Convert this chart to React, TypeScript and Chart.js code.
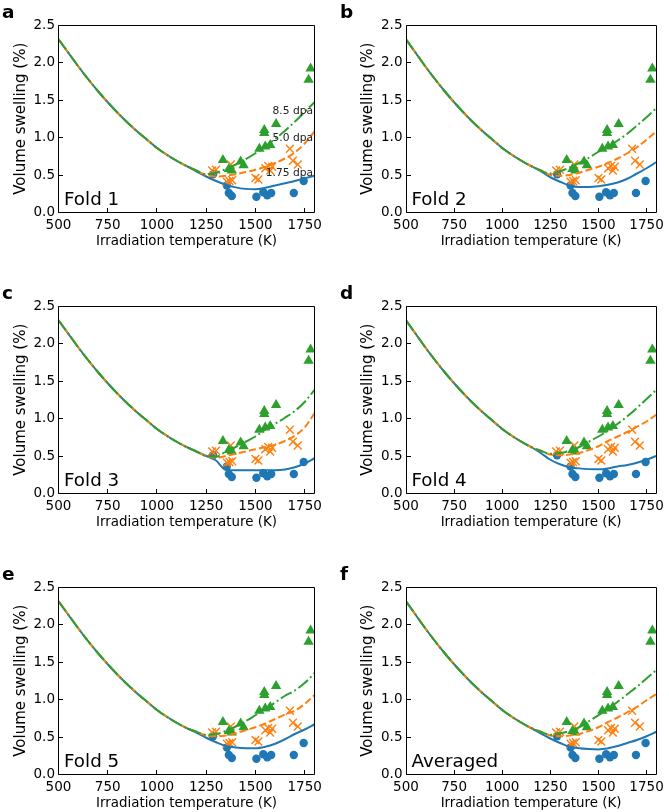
import React, { useEffect, useRef } from 'react';
import { Chart, registerables } from 'chart.js';

Chart.register(...registerables);

const FONT = "'DejaVu Sans', sans-serif";
const BLUE = '#1f77b4';
const ORANGE = '#ff7f0e';
const GREEN = '#2ca02c';

// Axis ticks
const X_TICKS = [500, 750, 1000, 1250, 1500, 1750];
const Y_TICKS = [0, 0.5, 1.0, 1.5, 2.0, 2.5];

// Model curves: shared low-temperature part
const COMMON_T = [500, 550, 600, 650, 700, 750, 800, 850, 900, 950, 1000, 1050, 1100, 1150];
const COMMON_S = [2.31, 2.13, 1.95, 1.78, 1.62, 1.47, 1.33, 1.2, 1.08, 0.97, 0.86, 0.77, 0.69, 0.62];

// Model curves: high-temperature part per fold
const TAIL_T = [1200, 1250, 1300, 1350, 1400, 1450, 1500, 1550, 1600, 1650, 1700, 1750, 1800];

const FOLD1_BLUE = [0.55, 0.48, 0.42, 0.37, 0.335, 0.315, 0.31, 0.33, 0.36, 0.39, 0.42, 0.455, 0.49];
const FOLD1_ORANGE = [0.56, 0.5, 0.48, 0.49, 0.51, 0.54, 0.57, 0.61, 0.66, 0.72, 0.8, 0.92, 1.08];
const FOLD1_GREEN = [0.56, 0.51, 0.53, 0.58, 0.64, 0.71, 0.79, 0.88, 0.98, 1.09, 1.21, 1.34, 1.47];

const FOLD2_BLUE = [0.55, 0.47, 0.41, 0.36, 0.34, 0.34, 0.35, 0.37, 0.4, 0.45, 0.52, 0.59, 0.67];
const FOLD2_ORANGE = [0.56, 0.5, 0.49, 0.5, 0.53, 0.57, 0.61, 0.66, 0.72, 0.79, 0.87, 0.97, 1.08];
const FOLD2_GREEN = [0.56, 0.52, 0.55, 0.6, 0.66, 0.73, 0.81, 0.88, 0.96, 1.05, 1.16, 1.27, 1.39];

const FOLD3_BLUE = [0.56, 0.5, 0.44, 0.315, 0.31, 0.31, 0.31, 0.31, 0.31, 0.32, 0.35, 0.4, 0.47];
const FOLD3_ORANGE = [0.56, 0.5, 0.475, 0.5, 0.53, 0.56, 0.59, 0.62, 0.65, 0.7, 0.77, 0.88, 1.07];
const FOLD3_GREEN = [0.56, 0.5, 0.49, 0.56, 0.62, 0.69, 0.76, 0.85, 0.93, 1.01, 1.1, 1.22, 1.38];

const FOLD4_BLUE = [0.54, 0.45, 0.39, 0.35, 0.335, 0.325, 0.322, 0.335, 0.36, 0.38, 0.41, 0.45, 0.5];
const FOLD4_ORANGE = [0.57, 0.52, 0.51, 0.52, 0.54, 0.58, 0.63, 0.7, 0.76, 0.82, 0.89, 0.96, 1.05];
const FOLD4_GREEN = [0.57, 0.53, 0.54, 0.57, 0.62, 0.69, 0.76, 0.84, 0.93, 1.03, 1.14, 1.26, 1.38];

const FOLD5_BLUE = [0.56, 0.49, 0.43, 0.38, 0.36, 0.35, 0.35, 0.37, 0.41, 0.47, 0.54, 0.6, 0.67];
const FOLD5_ORANGE = [0.57, 0.52, 0.51, 0.52, 0.55, 0.59, 0.63, 0.68, 0.74, 0.8, 0.85, 0.94, 1.06];
const FOLD5_GREEN = [0.57, 0.53, 0.54, 0.58, 0.64, 0.71, 0.79, 0.87, 0.96, 1.05, 1.12, 1.22, 1.35];

const AVG_BLUE = [0.55, 0.48, 0.42, 0.37, 0.35, 0.34, 0.335, 0.35, 0.38, 0.42, 0.46, 0.51, 0.57];
const AVG_ORANGE = [0.57, 0.52, 0.51, 0.52, 0.54, 0.58, 0.63, 0.7, 0.76, 0.83, 0.9, 0.99, 1.07];
const AVG_GREEN = [0.57, 0.53, 0.55, 0.58, 0.63, 0.71, 0.79, 0.88, 0.97, 1.07, 1.17, 1.28, 1.39];

// Experimental data (same in every panel)
const EXP_175_T = [1285, 1355, 1365, 1380, 1505, 1540, 1560, 1580, 1695, 1745];
const EXP_175_S = [0.51, 0.36, 0.26, 0.22, 0.21, 0.27, 0.23, 0.26, 0.26, 0.42];

const EXP_50_T = [1280, 1300, 1375, 1355, 1368, 1382, 1500, 1515, 1550, 1565, 1575, 1585, 1675, 1690, 1715];
const EXP_50_S = [0.56, 0.57, 0.64, 0.41, 0.42, 0.43, 0.46, 0.44, 0.59, 0.62, 0.56, 0.61, 0.85, 0.69, 0.64];

const EXP_85_T = [1335, 1365, 1380, 1425, 1440, 1520, 1545, 1545, 1550, 1575, 1605, 1770, 1780];
const EXP_85_S = [0.7, 0.58, 0.56, 0.68, 0.63, 0.85, 1.1, 1.06, 0.88, 0.9, 1.18, 1.77, 1.92];

// Annotations (panel a)
const DPA_TEXT = ['8.5 dpa', '5.0 dpa', '1.75 dpa'];
const DPA_Y = [1.35, 0.99, 0.53];

const PANEL_LETTERS = ['a', 'b', 'c', 'd', 'e', 'f'];
const PANEL_LABELS = ['Fold 1', 'Fold 2', 'Fold 3', 'Fold 4', 'Fold 5', 'Averaged'];
const PANEL_BLUE = [FOLD1_BLUE, FOLD2_BLUE, FOLD3_BLUE, FOLD4_BLUE, FOLD5_BLUE, AVG_BLUE];
const PANEL_ORANGE = [FOLD1_ORANGE, FOLD2_ORANGE, FOLD3_ORANGE, FOLD4_ORANGE, FOLD5_ORANGE, AVG_ORANGE];
const PANEL_GREEN = [FOLD1_GREEN, FOLD2_GREEN, FOLD3_GREEN, FOLD4_GREEN, FOLD5_GREEN, AVG_GREEN];

const zip = (xs: number[], ys: number[]) => xs.map((x, i) => ({ x, y: ys[i] }));
const curve = (tail: number[]) => zip(COMMON_T.concat(TAIL_T), COMMON_S.concat(tail));

const framePlugin = {
  id: 'frame',
  afterDatasetsDraw(chart: any) {
    const { ctx, chartArea: a, scales } = chart;
    ctx.save();
    ctx.strokeStyle = '#000';
    ctx.lineWidth = 1;
    const L = Math.floor(a.left) + 0.5;
    const R = Math.floor(a.right) + 0.5;
    const T = Math.floor(a.top) + 0.5;
    const B = Math.floor(a.bottom) + 0.5;
    ctx.beginPath();
    ctx.rect(L, T, R - L, B - T);
    X_TICKS.forEach((v) => {
      const x = Math.floor(scales.x.getPixelForValue(v)) + 0.5;
      ctx.moveTo(x, B);
      ctx.lineTo(x, B - 4.5);
    });
    Y_TICKS.forEach((v) => {
      const y = Math.floor(scales.y.getPixelForValue(v)) + 0.5;
      ctx.moveTo(L, y);
      ctx.lineTo(L + 4.5, y);
    });
    ctx.stroke();
    ctx.restore();
  },
  afterDraw(chart: any) {
    const { ctx, chartArea: a, scales } = chart;
    const o = chart.options.plugins.frame;
    ctx.save();
    ctx.fillStyle = '#000';
    ctx.textAlign = 'left';
    ctx.textBaseline = 'alphabetic';
    ctx.font = `18.3px ${FONT}`;
    ctx.fillText(o.label, a.left + 5.5, a.bottom - 7.5);
    ctx.font = `bold 18.5px ${FONT}`;
    ctx.fillText(o.letter, o.letterX, 18);
    if (o.dpa) {
      ctx.font = `10.7px ${FONT}`;
      ctx.fillStyle = '#222';
      ctx.textAlign = 'right';
      ctx.textBaseline = 'middle';
      DPA_TEXT.forEach((t, i) => {
        ctx.fillText(t, scales.x.getPixelForValue(1800) - 1.5, scales.y.getPixelForValue(DPA_Y[i]));
      });
    }
    ctx.restore();
  },
};

function Panel({ idx }: { idx: number }) {
  const ref = useRef<HTMLCanvasElement | null>(null);
  const col = idx % 2;
  const row = Math.floor(idx / 2);
  const left = col === 0 ? 0 : 337;
  const width = col === 0 ? 335 : 332;
  const top = [0, 281, 562][row];
  const height = row === 2 ? 250 : 281;

  useEffect(() => {
    if (!ref.current) return;
    const chart = new Chart(ref.current, {
      type: 'scatter',
      data: {
        datasets: [
          {
            data: curve(PANEL_GREEN[idx]),
            showLine: true,
            borderColor: GREEN,
            borderWidth: 2,
            borderDash: [12.4, 3.1, 1.9, 3.1],
            pointRadius: 0,
            cubicInterpolationMode: 'monotone',
            order: 1,
          },
          {
            data: curve(PANEL_ORANGE[idx]),
            showLine: true,
            borderColor: ORANGE,
            borderWidth: 2,
            borderDash: [7.2, 3.1],
            pointRadius: 0,
            cubicInterpolationMode: 'monotone',
            order: 2,
          },
          {
            data: curve(PANEL_BLUE[idx]),
            showLine: true,
            borderColor: BLUE,
            borderWidth: 2,
            pointRadius: 0,
            cubicInterpolationMode: 'monotone',
            order: 3,
          },
          {
            data: zip(EXP_85_T, EXP_85_S),
            pointStyle: 'triangle',
            pointRadius: 6,
            backgroundColor: GREEN,
            borderColor: GREEN,
            borderWidth: 0,
            order: 4,
          },
          {
            data: zip(EXP_50_T, EXP_50_S),
            pointStyle: 'crossRot',
            pointRadius: 5.5,
            backgroundColor: ORANGE,
            borderColor: ORANGE,
            borderWidth: 1.4,
            order: 5,
          },
          {
            data: zip(EXP_175_T, EXP_175_S),
            pointStyle: 'circle',
            pointRadius: 4.2,
            backgroundColor: BLUE,
            borderColor: BLUE,
            borderWidth: 0,
            order: 6,
          },
        ],
      },
      options: {
        responsive: false,
        animation: false,
        devicePixelRatio: 1,
        layout: {
          padding: {
            left: col === 0 ? 0 : 10.5,
            right: col === 0 ? 20.5 : 7,
            top: 25,
            bottom: row === 2 ? 0.5 : 31.5,
          },
        },
        plugins: {
          legend: { display: false },
          tooltip: { enabled: false },
          frame: {
            label: PANEL_LABELS[idx],
            letter: PANEL_LETTERS[idx],
            letterX: col === 0 ? 2 : 3,
            dpa: idx === 0,
          },
        } as any,
        scales: {
          x: {
            type: 'linear',
            min: 500,
            max: 1800,
            grid: { display: false, drawTicks: false },
            border: { display: false },
            afterBuildTicks: (s: any) => {
              s.ticks = X_TICKS.map((v) => ({ value: v }));
            },
            afterFit: (s: any) => {
              s.height = 37;
            },
            ticks: {
              autoSkip: false,
              maxRotation: 0,
              padding: 5,
              color: '#000',
              font: { family: FONT, size: 13.5 },
              callback: (v: any) => String(v),
            },
            title: {
              display: true,
              text: 'Irradiation temperature (K)',
              color: '#000',
              font: { family: FONT, size: 13.4 },
              padding: 0,
            },
          },
          y: {
            type: 'linear',
            min: 0,
            max: 2.5,
            grid: { display: false, drawTicks: false },
            border: { display: false },
            afterBuildTicks: (s: any) => {
              s.ticks = Y_TICKS.map((v) => ({ value: v }));
            },
            afterFit: (s: any) => {
              s.width = 58.5;
            },
            ticks: {
              autoSkip: false,
              padding: 3.5,
              color: '#000',
              font: { family: FONT, size: 13.5 },
              callback: (v: any) => Number(v).toFixed(1),
            },
            title: {
              display: true,
              text: 'Volume swelling (%)',
              color: '#000',
              font: { family: FONT, size: 15 },
              padding: { top: 11.8, bottom: 0 },
            },
          },
        },
      } as any,
      plugins: [framePlugin],
    });
    return () => chart.destroy();
  }, [idx]);

  return (
    <canvas
      ref={ref}
      width={width}
      height={height}
      style={{ position: 'absolute', left, top, width, height }}
    />
  );
}

export default function App() {
  return (
    <div
      style={{
        position: 'absolute',
        left: 0,
        top: 0,
        width: 669,
        height: 812,
        overflow: 'hidden',
        background: '#fff',
      }}
    >
      {[0, 1, 2, 3, 4, 5].map((i) => (
        <Panel key={i} idx={i} />
      ))}
    </div>
  );
}
